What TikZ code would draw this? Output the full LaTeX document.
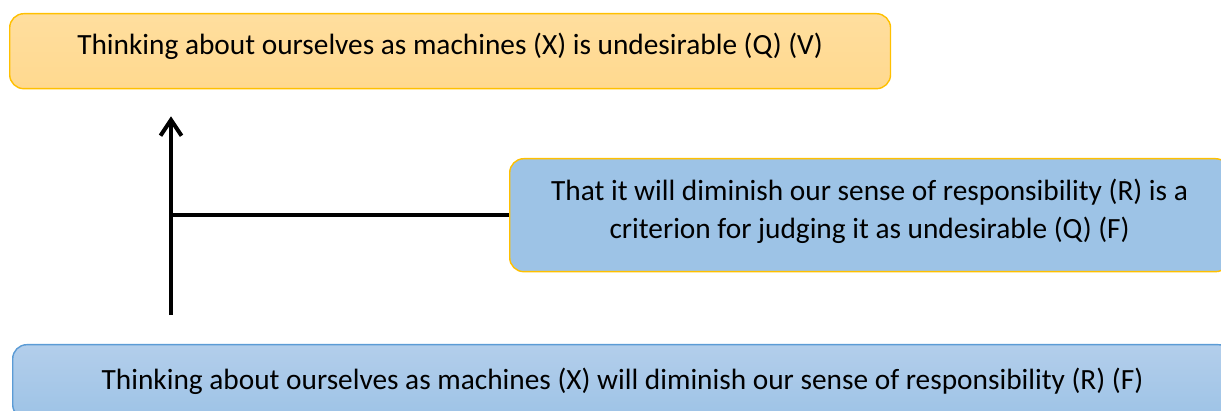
\documentclass[tikz,border=0pt]{standalone}
\usepackage{fontspec}
\setmainfont{Carlito}
\usetikzlibrary{arrows.meta}

\definecolor{warmfill}{HTML}{FFD98F}
\definecolor{warmtop}{HTML}{FFDE9E}
\definecolor{warmline}{HTML}{FFC000}
\definecolor{coolfill}{HTML}{9DC3E6}
\definecolor{cooltop}{HTML}{B3CEEB}
\definecolor{coolline}{HTML}{5B9BD5}

\tikzset{
	claim/.style={rounded corners=8pt, line width=0.8pt, anchor=north west, align=center, font=\fontsize{16.7}{21.5}\selectfont, inner sep=0pt},
	link/.style={line width=2.3pt, black}
}

\begin{document}
\begin{tikzpicture}[x=0.02cm, y=-0.02cm]
	\useasboundingbox (0,0) rectangle (1221,411);
	\clip (0,0) rectangle (1221,411);

	% the three statements
	\node[claim, draw=warmline, top color=warmtop, bottom color=warmfill,
		minimum width=17.62cm, minimum height=1.5cm, text depth=8.7pt] (verdict) at (9,13)
		{Thinking about ourselves as machines (X) is undesirable (Q) (V)};
	\node[claim, draw=warmline, fill=coolfill,
		minimum width=14.4cm, minimum height=2.26cm, text depth=7.6pt] (criterion) at (509,158)
		{That it will diminish our sense of responsibility (R) is a\\criterion for judging it as undesirable (Q) (F)};
	\node[claim, draw=coolline, top color=cooltop, bottom color=coolfill,
		minimum width=24.4cm, minimum height=1.48cm] (premise) at (12,344)
		{Thinking about ourselves as machines (X) will diminish our sense of responsibility (R) (F)};

	% support arrow with the criterion joining it
	\coordinate (stem) at (171,215);
	\draw[link, -{Straight Barb[length=9pt, width=12pt, line width=2.3pt]}, shorten <=16.4pt, shorten >=15.3pt]
		(premise.north -| stem) -- (verdict.south -| stem);
	\draw[link] (criterion.west) -- (criterion.west -| stem);
\end{tikzpicture}
\end{document}
